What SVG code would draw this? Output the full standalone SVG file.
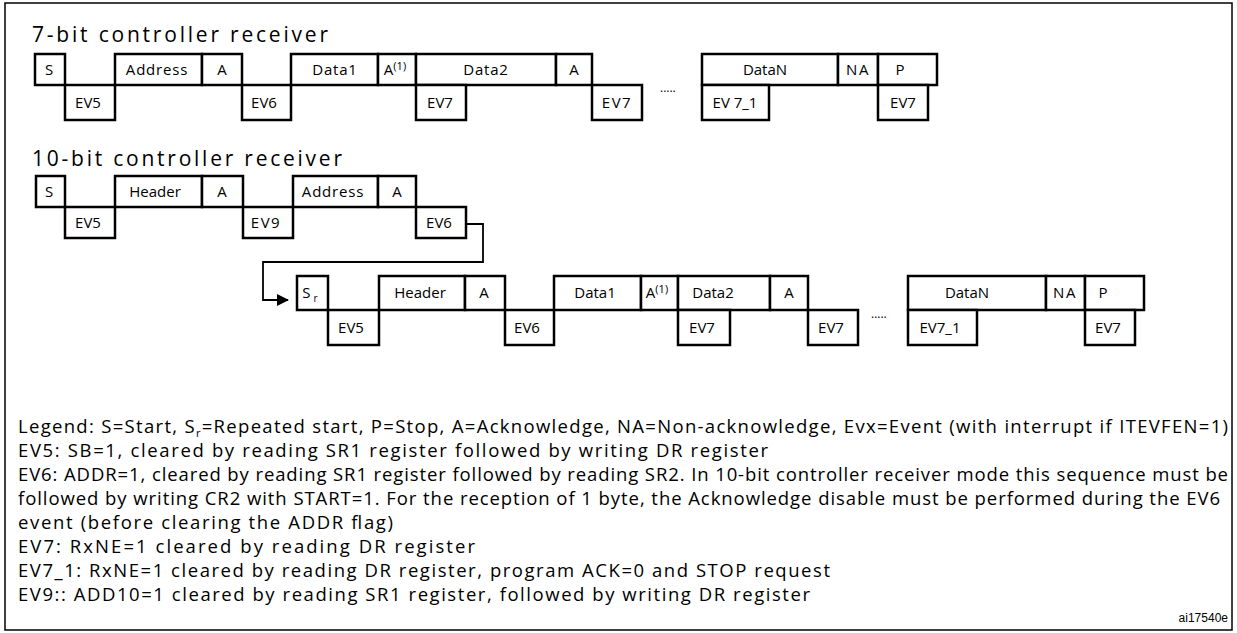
<svg xmlns="http://www.w3.org/2000/svg" width="1237" height="633" viewBox="0 0 1237 633">
<style>
.b{fill:#fff;stroke:#000;stroke-width:2.5}
.t{font-family:"Open Sans","Liberation Sans",sans-serif;font-size:15px;fill:#000;text-anchor:middle}
.h{font-family:"Open Sans","Liberation Sans",sans-serif;font-size:21px;fill:#000}
.l{font-family:"Open Sans","Liberation Sans",sans-serif;font-size:18.5px;fill:#000}
.c{fill:none;stroke:#000;stroke-width:1.8}
</style>
<defs><marker id="ar" markerWidth="12" markerHeight="12" refX="11" refY="6" orient="auto" markerUnits="userSpaceOnUse"><path d="M0,0 L12,6 L0,12 Z"/></marker></defs>
<rect x="5" y="3" width="1227" height="627" fill="#fff" stroke="#000" stroke-width="1.5"/>
<text class="h" x="32" y="42" textLength="296" lengthAdjust="spacing">7-bit controller receiver</text>
<text class="h" x="32" y="166" textLength="310" lengthAdjust="spacing">10-bit controller receiver</text>
<g id="r1">
<g id="n1"><rect class="b" x="35" y="54" width="30" height="31"/><text class="t" x="49" y="75">S</text></g>
<g id="n2"><rect class="b" x="65" y="85" width="50" height="35"/><text class="t" x="88" y="108">EV5</text></g>
<g id="n3"><rect class="b" x="115" y="54" width="87" height="31"/><text class="t" x="157" y="75" letter-spacing="0.8">Address</text></g>
<g id="n4"><rect class="b" x="202" y="54" width="40" height="31"/><text class="t" x="222" y="75">A</text></g>
<g id="n5"><rect class="b" x="242" y="85" width="49" height="35"/><text class="t" x="264" y="108">EV6</text></g>
<g id="n6"><rect class="b" x="291" y="54" width="87" height="31"/><text class="t" x="335" y="75" letter-spacing="0.8">Data1</text></g>
<g id="n7"><rect class="b" x="378" y="54" width="38" height="31"/><text class="t" x="395" y="75">A<tspan font-size="11" dy="-5">(1)</tspan></text></g>
<g id="n8"><rect class="b" x="416" y="54" width="140" height="31"/><text class="t" x="486" y="75" letter-spacing="0.8">Data2</text></g>
<g id="n9"><rect class="b" x="416" y="85" width="50" height="35"/><text class="t" x="440" y="108">EV7</text></g>
<g id="n10"><rect class="b" x="556" y="54" width="36" height="31"/><text class="t" x="574" y="75">A</text></g>
<g id="n11"><rect class="b" x="592" y="85" width="50" height="35"/><text class="t" x="617" y="108" letter-spacing="1.5">EV7</text></g>
<text x="660" y="92" font-family="Open Sans,sans-serif" font-size="12">.....</text>
<g id="n12"><rect class="b" x="702" y="54" width="136" height="31"/><text class="t" x="765" y="75">DataN</text></g>
<g id="n13"><rect class="b" x="702" y="85" width="67" height="35"/><text class="t" x="735" y="108">EV 7_1</text></g>
<g id="n14"><rect class="b" x="838" y="54" width="40" height="31"/><text class="t" x="858" y="75" letter-spacing="1.5">NA</text></g>
<g id="n15"><rect class="b" x="878" y="54" width="59" height="31"/><text class="t" x="900" y="75">P</text></g>
<g id="n16"><rect class="b" x="878" y="85" width="50" height="35"/><text class="t" x="903" y="108">EV7</text></g>
</g>
<g id="r2">
<g id="m1"><rect class="b" x="36" y="176" width="29" height="31"/><text class="t" x="49" y="197">S</text></g>
<g id="m2"><rect class="b" x="65" y="207" width="50" height="31"/><text class="t" x="88" y="228">EV5</text></g>
<g id="m3"><rect class="b" x="115" y="176" width="87" height="31"/><text class="t" x="155" y="197">Header</text></g>
<g id="m4"><rect class="b" x="202" y="176" width="41" height="31"/><text class="t" x="222" y="197">A</text></g>
<g id="m5"><rect class="b" x="243" y="207" width="50" height="31"/><text class="t" x="266" y="228" letter-spacing="1.5">EV9</text></g>
<g id="m6"><rect class="b" x="293" y="176" width="85" height="31"/><text class="t" x="333" y="197" letter-spacing="0.8">Address</text></g>
<g id="m7"><rect class="b" x="378" y="176" width="38" height="31"/><text class="t" x="397" y="197">A</text></g>
<g id="m8"><rect class="b" x="416" y="207" width="50" height="31"/><text class="t" x="439" y="228">EV6</text></g>
</g>
<g id="r3">
<g id="k1"><rect class="b" x="297" y="276" width="31" height="34"/><text class="t" x="310" y="298">S<tspan font-size="10" dx="3" dy="4">r</tspan></text></g>
<g id="k2"><rect class="b" x="328" y="310" width="51" height="35"/><text class="t" x="351" y="333">EV5</text></g>
<g id="k3"><rect class="b" x="379" y="276" width="86" height="34"/><text class="t" x="420" y="298">Header</text></g>
<g id="k4"><rect class="b" x="465" y="276" width="40" height="34"/><text class="t" x="484" y="298">A</text></g>
<g id="k5"><rect class="b" x="505" y="310" width="49" height="35"/><text class="t" x="527" y="333">EV6</text></g>
<g id="k6"><rect class="b" x="554" y="276" width="87" height="34"/><text class="t" x="595" y="298">Data1</text></g>
<g id="k7"><rect class="b" x="641" y="276" width="37" height="34"/><text class="t" x="657" y="298">A<tspan font-size="11" dy="-5">(1)</tspan></text></g>
<g id="k8"><rect class="b" x="678" y="276" width="92" height="34"/><text class="t" x="713" y="298">Data2</text></g>
<g id="k9"><rect class="b" x="678" y="310" width="52" height="35"/><text class="t" x="702" y="333">EV7</text></g>
<g id="k10"><rect class="b" x="770" y="276" width="38" height="34"/><text class="t" x="789" y="298">A</text></g>
<g id="k11"><rect class="b" x="808" y="310" width="50" height="35"/><text class="t" x="831" y="333">EV7</text></g>
<text x="871" y="318" font-family="Open Sans,sans-serif" font-size="12">.....</text>
<g id="k12"><rect class="b" x="908" y="276" width="138" height="34"/><text class="t" x="967" y="298">DataN</text></g>
<g id="k13"><rect class="b" x="908" y="310" width="69" height="35"/><text class="t" x="940" y="333">EV7_1</text></g>
<g id="k14"><rect class="b" x="1046" y="276" width="39" height="34"/><text class="t" x="1065" y="298" letter-spacing="1.5">NA</text></g>
<g id="k15"><rect class="b" x="1085" y="276" width="59" height="34"/><text class="t" x="1103" y="298">P</text></g>
<g id="k16"><rect class="b" x="1085" y="310" width="50" height="35"/><text class="t" x="1108" y="333">EV7</text></g>
</g>
<g id="connectors">
<path class="c" d="M466,224 H483 V262 H263 V300 H288" marker-end="url(#ar)"/>
</g>
<g id="legend">
<text class="l" x="18" y="433" textLength="1210" lengthAdjust="spacing">Legend: S=Start, S<tspan font-size="11" dy="4">r</tspan><tspan dy="-4">=Repeated start, P=Stop, A=Acknowledge, NA=Non-acknowledge, Evx=Event (with interrupt if ITEVFEN=1)</tspan></text>
<text class="l" x="18" y="457" textLength="750" lengthAdjust="spacing">EV5: SB=1, cleared by reading SR1 register followed by writing DR register</text>
<text class="l" x="18" y="481" textLength="1210" lengthAdjust="spacing">EV6: ADDR=1, cleared by reading SR1 register followed by reading SR2. In 10-bit controller receiver mode this sequence must be</text>
<text class="l" x="18" y="505" textLength="1202" lengthAdjust="spacing">followed by writing CR2 with START=1. For the reception of 1 byte, the Acknowledge disable must be performed during the EV6</text>
<text class="l" x="18" y="529" textLength="375" lengthAdjust="spacing">event (before clearing the ADDR flag)</text>
<text class="l" x="18" y="553" textLength="457" lengthAdjust="spacing">EV7: RxNE=1 cleared by reading DR register</text>
<text class="l" x="18" y="577" textLength="812" lengthAdjust="spacing">EV7_1: RxNE=1 cleared by reading DR register, program ACK=0 and STOP request</text>
<text class="l" x="18" y="601" textLength="792" lengthAdjust="spacing">EV9:: ADD10=1 cleared by reading SR1 register, followed by writing DR register</text>
<text x="1228" y="622" text-anchor="end" font-family="Liberation Sans,Arial,sans-serif" font-size="12">ai17540e</text>
</g>
</svg>
